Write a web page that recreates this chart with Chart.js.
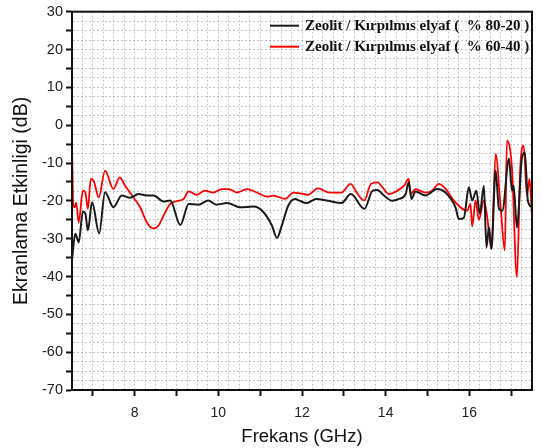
<!DOCTYPE html>
<html>
<head>
<meta charset="utf-8">
<script src="https://cdn.jsdelivr.net/npm/chart.js@4/dist/chart.umd.min.js"></script>
<style>
  html, body { margin: 0; padding: 0; background: #fff; }
  #wrap { width: 541px; height: 448px; }
</style>
</head>
<body>
<div id="wrap"><canvas id="chart-se"></canvas></div>
<script>
// Zeolit / kirpilmis elyaf (% 80-20)
const freqBlack = [6.5, 6.58, 6.66, 6.76, 6.82, 6.88, 6.98, 7.15, 7.29, 7.49, 7.69, 7.89, 8.09, 8.29, 8.45, 8.69, 8.85, 9.09, 9.29, 9.52, 9.76, 9.95, 10.21, 10.52, 10.84, 11.08, 11.28, 11.4, 11.52, 11.67, 11.83, 11.95, 12.1, 12.34, 12.62, 12.94, 13.17, 13.49, 13.69, 13.81, 13.92, 14.16, 14.32, 14.48, 14.55, 14.62, 14.71, 14.95, 15.23, 15.43, 15.67, 15.75, 15.87, 15.99, 16.07, 16.17, 16.25, 16.35, 16.41, 16.47, 16.53, 16.63, 16.71, 16.79, 16.95, 17.02, 17.06, 17.14, 17.26, 17.33, 17.4, 17.5]
const seBlack = [-35.5, -28.7, -31, -22.8, -23.4, -27.8, -20.4, -28.6, -17.7, -21.7, -18.6, -19.2, -18.2, -18.6, -18.6, -20.2, -19.9, -26.4, -20.8, -21, -19.9, -21, -20.6, -21.7, -21.5, -23, -26.5, -29.8, -26.4, -21.3, -19.5, -20, -20.6, -19.5, -20, -20.6, -18.2, -22.1, -17.3, -17.1, -18.2, -20, -19.5, -18.2, -15.1, -19.5, -17.5, -18.6, -16.9, -17.8, -21.7, -24.8, -24.5, -16.4, -19.9, -17.3, -23.4, -16, -32.3, -27, -32.7, -12, -22.1, -22.6, -8.9, -17.3, -16, -27, -8.5, -7.2, -19.9, -21.7]

// Zeolit / kirpilmis elyaf (% 60-40)
const freqRed = [6.5, 6.53, 6.57, 6.6, 6.66, 6.76, 6.82, 6.88, 6.95, 7.02, 7.14, 7.29, 7.49, 7.64, 7.77, 7.97, 8.13, 8.29, 8.45, 8.57, 8.69, 8.85, 9.01, 9.17, 9.29, 9.48, 9.68, 9.88, 10.08, 10.25, 10.45, 10.68, 10.92, 11.16, 11.32, 11.6, 11.79, 11.95, 12.14, 12.38, 12.66, 12.94, 13.16, 13.33, 13.49, 13.65, 13.81, 13.92, 14.08, 14.28, 14.44, 14.55, 14.6, 14.71, 14.95, 15.11, 15.27, 15.47, 15.6, 15.95, 16.03, 16.07, 16.15, 16.23, 16.35, 16.43, 16.53, 16.63, 16.75, 16.85, 16.9, 17.02, 17.14, 17.22, 17.3, 17.38, 17.44, 17.5]
const seRed = [-5, -21, -21.7, -20.4, -25.7, -17.3, -17.8, -22.1, -14.2, -14.7, -19.1, -12, -16.9, -13.8, -16, -19.1, -21.7, -25.7, -27.3, -26.5, -23.9, -20.8, -20.1, -19.5, -17.5, -18.4, -17.3, -17.8, -16.9, -16.9, -17.8, -16.9, -17.8, -18.9, -18.6, -19.5, -17.8, -18, -18.4, -16.7, -17.8, -17.8, -15.5, -18.2, -19.9, -15.5, -15.1, -16.4, -18.2, -17.3, -16, -14.2, -18.2, -16.9, -17.8, -17.3, -15.5, -17.3, -19.5, -22.6, -20.8, -26.8, -19.9, -25, -19.9, -24.4, -32.7, -7.6, -21.7, -33.1, -4.1, -11.2, -40.2, -11.2, -5.4, -18.6, -14.2, -24.4]

const legendLabels = ['Zeolit / Kırpılmıs elyaf (  % 80-20 )', 'Zeolit / Kırpılmıs elyaf (  % 60-40 )']
const xTickLabels = [8, 10, 12, 14, 16]
const yTickLabels = [30, 20, 10, 0, -10, -20, -30, -40, -50, -60, -70]

const toPoints = (xs, ys) => xs.map((x, i) => ({ x: x, y: ys[i] }))

// frame round the plot and the legend drawn inside it
const framePlugin = {
  id: 'frame',
  afterDatasetsDraw(chart) {
    const { ctx, chartArea: a } = chart
    ctx.save()
    ctx.strokeStyle = '#111'
    ctx.lineWidth = 2
    ctx.strokeRect(a.left, a.top, a.right - a.left, a.bottom - a.top)

    ctx.font = 'bold 15px "Liberation Serif", "Times New Roman", serif'
    ctx.textBaseline = 'middle'
    chart.data.datasets.forEach((ds, i) => {
      const y = a.top + 14 + i * 21
      ctx.strokeStyle = ds.borderColor
      ctx.lineWidth = 2
      ctx.beginPath()
      ctx.moveTo(270, y)
      ctx.lineTo(299, y)
      ctx.stroke()
      ctx.fillStyle = '#111'
      ctx.fillText(legendLabels[i], 305, y)
    })
    ctx.restore()
  }
}

const gridColor = 'rgba(0,0,0,0.22)'

const configSE = {
  type: 'line',
  data: {
    datasets: [
      {
        label: legendLabels[0],
        data: toPoints(freqBlack, seBlack),
        borderColor: '#1a1a1a',
        borderWidth: 2,
        pointRadius: 0,
        cubicInterpolationMode: 'monotone',
      },
      {
        label: legendLabels[1],
        data: toPoints(freqRed, seRed),
        borderColor: '#ff0000',
        borderWidth: 1.8,
        pointRadius: 0,
        cubicInterpolationMode: 'monotone',
      },
    ],
  },
  options: {
    responsive: true,
    maintainAspectRatio: false,
    animation: false,
    layout: { padding: { top: 10, right: 6, left: 0, bottom: 0 } },
    plugins: {
      legend: { display: false },
      tooltip: { enabled: false },
    },
    scales: {
      x: {
        type: 'linear',
        min: 6.5,
        max: 17.5,
        afterFit: (scale) => { scale.height = 58 },
        ticks: {
          stepSize: 0.25,
          autoSkip: false,
          maxRotation: 0,
          padding: 9,
          color: '#222',
          font: { family: '"Liberation Sans", Arial, sans-serif', size: 14 },
          callback: (v) => xTickLabels.includes(v) ? String(v) : '',
        },
        grid: {
          color: (c) => (c.tick && c.tick.value > 6.5 && c.tick.value < 17.5) ? gridColor : 'rgba(0,0,0,0)',
          lineWidth: 1,
          tickLength: 6,
          tickColor: (c) => Number.isInteger(c.tick.value) ? '#111' : 'rgba(0,0,0,0)',
          tickWidth: 2,
        },
        border: { display: true, color: '#111', width: 2, dash: [2, 2] },
        title: {
          display: true,
          text: 'Frekans (GHz)',
          color: '#111',
          font: { family: '"Liberation Sans", Arial, sans-serif', size: 18.5 },
          padding: { top: 0, bottom: 0 },
        },
      },
      y: {
        min: -70,
        max: 30,
        afterFit: (scale) => { scale.width = 72 },
        ticks: {
          stepSize: 2.5,
          autoSkip: false,
          padding: 3,
          color: '#222',
          font: { family: '"Liberation Sans", Arial, sans-serif', size: 14.5 },
          callback: (v) => yTickLabels.includes(v) ? String(v) : '',
        },
        grid: {
          color: (c) => (c.tick && c.tick.value > -70 && c.tick.value < 30) ? gridColor : 'rgba(0,0,0,0)',
          lineWidth: 1,
          tickLength: 6,
          tickColor: (c) => (c.tick.value % 5 === 0) ? '#111' : 'rgba(0,0,0,0)',
          tickWidth: 2,
        },
        border: { display: true, color: '#111', width: 2, dash: [2, 2] },
        title: {
          display: true,
          text: 'Ekranlama Etkinligi (dB)',
          color: '#111',
          font: { family: '"Liberation Sans", Arial, sans-serif', size: 19.5 },
          padding: { top: 10, bottom: 2 },
        },
      },
    },
  },
  plugins: [framePlugin],
}

const canvasSE = document.getElementById('chart-se')
window.myLine = new Chart(canvasSE, configSE)
</script>
</body>
</html>
